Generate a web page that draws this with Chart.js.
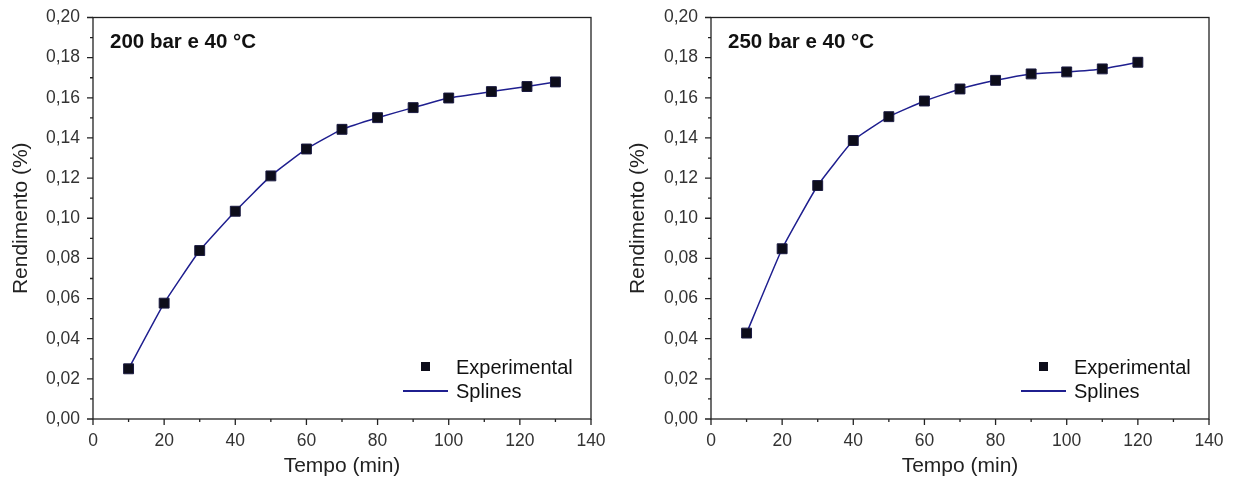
<!DOCTYPE html>
<html>
<head>
<meta charset="utf-8">
<script src="https://cdn.jsdelivr.net/npm/chart.js@4.4.0/dist/chart.umd.min.js"></script>
<style>
body { margin: 0; background: #fff; }
#wrap { display: flex; width: 1235px; height: 483px; }
.box { position: relative; height: 483px; }
</style>
</head>
<body>
<div id="wrap">
	<div class="box" style="width:617px"><canvas id="chartA"></canvas></div>
	<div class="box" style="width:618px"><canvas id="chartB"></canvas></div>
</div>
<script>
// 200 bar e 40 °C
var tempoA = [10, 20, 30, 40, 50, 60, 70, 80, 90, 100, 112, 122, 130]
var rendA = [0.025, 0.0577, 0.0839, 0.1035, 0.1211, 0.1345, 0.1443, 0.1501, 0.1551, 0.1599, 0.1631, 0.1656, 0.1679]
// 250 bar e 40 °C
var tempoB = [10, 20, 30, 40, 50, 60, 70, 80, 90, 100, 110, 120]
var rendB = [0.0428, 0.0848, 0.1163, 0.1387, 0.1506, 0.1584, 0.1644, 0.1687, 0.1719, 0.1729, 0.1744, 0.1777]

var titleA = "200 bar e 40 °C"
var titleB = "250 bar e 40 °C"
var seriesNames = ["Experimental", "Splines"]
var xTitle = "Tempo (min)"
var yTitle = "Rendimento (%)"

var FONT = '"Liberation Sans", Arial, sans-serif'
var lineColor = "#1f1f8f"
var markColor = "#0d0d1a"

function toPoints(xs, ys) {
	return xs.map(function(x, i){ return {x: x, y: ys[i]} })
}

// frame, short/long ticks, title and legend inside the plot
var framePlugin = {
	id: 'frameTicks',
	afterDraw: function(chart, args, opts) {
		var ctx = chart.ctx, a = chart.chartArea
		var xs = chart.scales.x, ys = chart.scales.y
		ctx.save()
		ctx.strokeStyle = '#222'
		ctx.lineWidth = 1.3
		ctx.strokeRect(a.left, a.top, a.right - a.left, a.bottom - a.top)
		ctx.beginPath()
		xs.ticks.forEach(function(t){
			var px = xs.getPixelForValue(t.value)
			var len = (Math.round(t.value) % 20 === 0) ? 6 : 3
			ctx.moveTo(px, a.bottom); ctx.lineTo(px, a.bottom + len)
		})
		ys.ticks.forEach(function(t){
			var py = ys.getPixelForValue(t.value)
			var len = (Math.round(t.value * 100) % 2 === 0) ? 6 : 3
			ctx.moveTo(a.left, py); ctx.lineTo(a.left - len, py)
		})
		ctx.stroke()

		// title
		ctx.fillStyle = '#111'
		ctx.textAlign = 'left'
		ctx.textBaseline = 'middle'
		ctx.font = 'bold 20.5px ' + FONT
		ctx.fillText(opts.title, a.left + 17, a.top + 25)

		// legend
		var ds = chart.data.datasets
		ctx.font = '20px ' + FONT
		ctx.fillStyle = ds[0].backgroundColor
		ctx.fillRect(a.right - 170, a.bottom - 57, 9, 9)
		ctx.fillStyle = '#111'
		ctx.fillText(ds[0].label, a.right - 135, a.bottom - 51)
		ctx.strokeStyle = ds[1].borderColor
		ctx.lineWidth = 1.8
		ctx.beginPath()
		ctx.moveTo(a.right - 188, a.bottom - 28); ctx.lineTo(a.right - 143, a.bottom - 28)
		ctx.stroke()
		ctx.fillText(ds[1].label, a.right - 135, a.bottom - 27)
		ctx.restore()
	}
}

function makeChart(id, tempo, rend, title, yWidth) {
	var pts = toPoints(tempo, rend)
	var config = {
		type: 'scatter',
		data: {
			datasets: [
				{label: seriesNames[0], data: pts, showLine: false, pointStyle: 'rect', pointRadius: 7,
					backgroundColor: markColor, borderColor: '#1a1a40', borderWidth: 1, order: 0},
				{label: seriesNames[1], data: pts, showLine: true, pointRadius: 0, borderColor: lineColor,
					backgroundColor: lineColor, borderWidth: 1.5, tension: 0.12, fill: false, order: 1}
			]
		},
		options: {
			responsive: true,
			maintainAspectRatio: false,
			animation: false,
			layout: {padding: {top: 17, right: 26, left: 0, bottom: 0}},
			plugins: {
				legend: {display: false},
				tooltip: {enabled: false},
				frameTicks: {title: title}
			},
			scales: {
				x: {
					type: 'linear', min: 0, max: 140,
					afterFit: function(s){ s.height = 64 },
					grid: {drawOnChartArea: false, tickColor: 'transparent', tickLength: 6},
					border: {display: false},
					ticks: {stepSize: 10, autoSkip: false, maxRotation: 0, padding: 6, color: '#333',
						font: {family: FONT, size: 17.5},
						callback: function(v){ return (Math.round(v) % 20 === 0) ? String(v) : '' }},
					title: {display: true, text: xTitle, color: '#222', font: {family: FONT, size: 21}, padding: {top: 4, bottom: 4}}
				},
				y: {
					min: 0, max: 0.2,
					afterFit: function(s){ s.width = yWidth },
					grid: {drawOnChartArea: false, tickColor: 'transparent', tickLength: 6},
					border: {display: false},
					ticks: {stepSize: 0.01, autoSkip: false, padding: 7, color: '#333',
						font: {family: FONT, size: 17.5},
						callback: function(v){ return (Math.round(v * 100) % 2 === 0) ? v.toFixed(2).replace('.', ',') : '' }},
					title: {display: true, text: yTitle, color: '#222', font: {family: FONT, size: 21}, padding: {top: 9, bottom: 4}}
				}
			}
		},
		plugins: [framePlugin]
	}
	return new Chart(document.getElementById(id).getContext('2d'), config)
}

var chartA = makeChart("chartA", tempoA, rendA, titleA, 93)
var chartB = makeChart("chartB", tempoB, rendB, titleB, 94)
</script>
</body>
</html>
